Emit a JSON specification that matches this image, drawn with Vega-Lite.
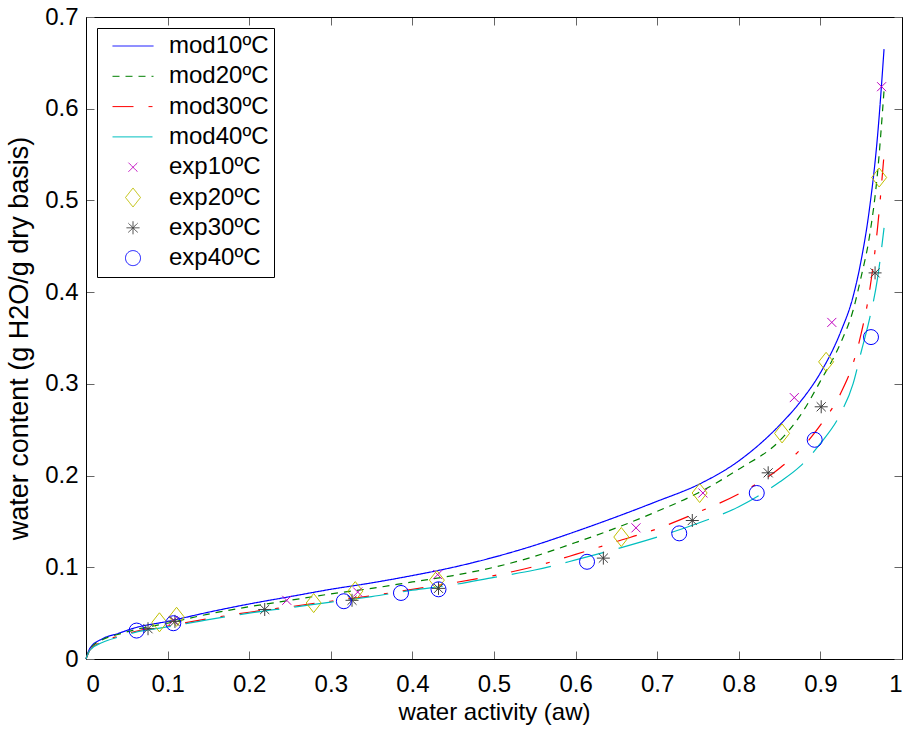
{
  "$schema": "https://vega.github.io/schema/vega-lite/v6.json",
  "width": 816,
  "height": 642,
  "autosize": {"type": "none"},
  "padding": {"left": 86, "top": 17, "right": 7, "bottom": 72},
  "background": "white",
  "config": {
    "view": {"stroke": "black", "strokeWidth": 1},
    "font": "Liberation Sans",
    "axis": {
      "labelFont": "Liberation Sans",
      "titleFont": "Liberation Sans",
      "labelFontSize": 24,
      "titleFontSize": 24,
      "labelColor": "black",
      "titleColor": "black",
      "titleFontWeight": "normal",
      "domainColor": "black",
      "domainWidth": 1,
      "tickColor": "#666666",
      "tickWidth": 1,
      "tickSize": -8,
      "grid": false
    },
    "legend": {
      "orient": "top-left",
      "offset": 11,
      "padding": 5,
      "strokeColor": "black",
      "fillColor": "white",
      "clipHeight": 26,
      "rowPadding": 4.3,
      "symbolOffset": 10,
      "labelOffset": 15,
      "labelFont": "Liberation Sans",
      "labelFontSize": 24,
      "labelColor": "black",
      "symbolStrokeWidth": 1
    }
  },
  "datasets": {
    "curves": [
      {"series": "mod10ºC", "aw": 0, "w": 0},
      {"series": "mod10ºC", "aw": 0.005, "w": 0.012},
      {"series": "mod10ºC", "aw": 0.02, "w": 0.022},
      {"series": "mod10ºC", "aw": 0.04, "w": 0.028},
      {"series": "mod10ºC", "aw": 0.06, "w": 0.034},
      {"series": "mod10ºC", "aw": 0.1, "w": 0.041},
      {"series": "mod10ºC", "aw": 0.15, "w": 0.051},
      {"series": "mod10ºC", "aw": 0.2, "w": 0.06},
      {"series": "mod10ºC", "aw": 0.25, "w": 0.068},
      {"series": "mod10ºC", "aw": 0.3, "w": 0.076},
      {"series": "mod10ºC", "aw": 0.35, "w": 0.083},
      {"series": "mod10ºC", "aw": 0.4, "w": 0.091},
      {"series": "mod10ºC", "aw": 0.45, "w": 0.1},
      {"series": "mod10ºC", "aw": 0.5, "w": 0.111},
      {"series": "mod10ºC", "aw": 0.55, "w": 0.124},
      {"series": "mod10ºC", "aw": 0.6, "w": 0.139},
      {"series": "mod10ºC", "aw": 0.65, "w": 0.155},
      {"series": "mod10ºC", "aw": 0.7, "w": 0.172},
      {"series": "mod10ºC", "aw": 0.75, "w": 0.19},
      {"series": "mod10ºC", "aw": 0.8, "w": 0.216},
      {"series": "mod10ºC", "aw": 0.85, "w": 0.255},
      {"series": "mod10ºC", "aw": 0.875, "w": 0.28},
      {"series": "mod10ºC", "aw": 0.9, "w": 0.312},
      {"series": "mod10ºC", "aw": 0.925, "w": 0.357},
      {"series": "mod10ºC", "aw": 0.94, "w": 0.395},
      {"series": "mod10ºC", "aw": 0.95, "w": 0.435},
      {"series": "mod10ºC", "aw": 0.96, "w": 0.49},
      {"series": "mod10ºC", "aw": 0.97, "w": 0.57},
      {"series": "mod10ºC", "aw": 0.978, "w": 0.665},
      {"series": "mod20ºC", "aw": 0, "w": 0},
      {"series": "mod20ºC", "aw": 0.005, "w": 0.011},
      {"series": "mod20ºC", "aw": 0.02, "w": 0.021},
      {"series": "mod20ºC", "aw": 0.04, "w": 0.027},
      {"series": "mod20ºC", "aw": 0.06, "w": 0.032},
      {"series": "mod20ºC", "aw": 0.1, "w": 0.039},
      {"series": "mod20ºC", "aw": 0.15, "w": 0.049},
      {"series": "mod20ºC", "aw": 0.2, "w": 0.057},
      {"series": "mod20ºC", "aw": 0.25, "w": 0.064},
      {"series": "mod20ºC", "aw": 0.3, "w": 0.071},
      {"series": "mod20ºC", "aw": 0.35, "w": 0.077},
      {"series": "mod20ºC", "aw": 0.4, "w": 0.084},
      {"series": "mod20ºC", "aw": 0.45, "w": 0.091},
      {"series": "mod20ºC", "aw": 0.5, "w": 0.1},
      {"series": "mod20ºC", "aw": 0.55, "w": 0.112},
      {"series": "mod20ºC", "aw": 0.6, "w": 0.127},
      {"series": "mod20ºC", "aw": 0.65, "w": 0.143},
      {"series": "mod20ºC", "aw": 0.7, "w": 0.161},
      {"series": "mod20ºC", "aw": 0.75, "w": 0.181},
      {"series": "mod20ºC", "aw": 0.8, "w": 0.207},
      {"series": "mod20ºC", "aw": 0.85, "w": 0.238},
      {"series": "mod20ºC", "aw": 0.875, "w": 0.265},
      {"series": "mod20ºC", "aw": 0.9, "w": 0.303},
      {"series": "mod20ºC", "aw": 0.925, "w": 0.345},
      {"series": "mod20ºC", "aw": 0.94, "w": 0.38},
      {"series": "mod20ºC", "aw": 0.95, "w": 0.417},
      {"series": "mod20ºC", "aw": 0.96, "w": 0.46},
      {"series": "mod20ºC", "aw": 0.97, "w": 0.53},
      {"series": "mod20ºC", "aw": 0.978, "w": 0.62},
      {"series": "mod30ºC", "aw": 0, "w": 0},
      {"series": "mod30ºC", "aw": 0.005, "w": 0.01},
      {"series": "mod30ºC", "aw": 0.02, "w": 0.019},
      {"series": "mod30ºC", "aw": 0.04, "w": 0.025},
      {"series": "mod30ºC", "aw": 0.06, "w": 0.03},
      {"series": "mod30ºC", "aw": 0.1, "w": 0.036},
      {"series": "mod30ºC", "aw": 0.15, "w": 0.044},
      {"series": "mod30ºC", "aw": 0.2, "w": 0.051},
      {"series": "mod30ºC", "aw": 0.25, "w": 0.057},
      {"series": "mod30ºC", "aw": 0.3, "w": 0.063},
      {"series": "mod30ºC", "aw": 0.35, "w": 0.069},
      {"series": "mod30ºC", "aw": 0.4, "w": 0.076},
      {"series": "mod30ºC", "aw": 0.45, "w": 0.083},
      {"series": "mod30ºC", "aw": 0.5, "w": 0.091},
      {"series": "mod30ºC", "aw": 0.55, "w": 0.101},
      {"series": "mod30ºC", "aw": 0.6, "w": 0.114},
      {"series": "mod30ºC", "aw": 0.65, "w": 0.128},
      {"series": "mod30ºC", "aw": 0.7, "w": 0.142},
      {"series": "mod30ºC", "aw": 0.75, "w": 0.16},
      {"series": "mod30ºC", "aw": 0.8, "w": 0.18},
      {"series": "mod30ºC", "aw": 0.85, "w": 0.208},
      {"series": "mod30ºC", "aw": 0.875, "w": 0.228},
      {"series": "mod30ºC", "aw": 0.9, "w": 0.255},
      {"series": "mod30ºC", "aw": 0.925, "w": 0.29},
      {"series": "mod30ºC", "aw": 0.94, "w": 0.322},
      {"series": "mod30ºC", "aw": 0.95, "w": 0.355},
      {"series": "mod30ºC", "aw": 0.96, "w": 0.4},
      {"series": "mod30ºC", "aw": 0.97, "w": 0.47},
      {"series": "mod30ºC", "aw": 0.978, "w": 0.55},
      {"series": "mod40ºC", "aw": 0, "w": 0},
      {"series": "mod40ºC", "aw": 0.005, "w": 0.01},
      {"series": "mod40ºC", "aw": 0.02, "w": 0.018},
      {"series": "mod40ºC", "aw": 0.04, "w": 0.024},
      {"series": "mod40ºC", "aw": 0.06, "w": 0.029},
      {"series": "mod40ºC", "aw": 0.1, "w": 0.035},
      {"series": "mod40ºC", "aw": 0.15, "w": 0.043},
      {"series": "mod40ºC", "aw": 0.2, "w": 0.05},
      {"series": "mod40ºC", "aw": 0.25, "w": 0.056},
      {"series": "mod40ºC", "aw": 0.3, "w": 0.062},
      {"series": "mod40ºC", "aw": 0.35, "w": 0.068},
      {"series": "mod40ºC", "aw": 0.4, "w": 0.075},
      {"series": "mod40ºC", "aw": 0.45, "w": 0.081},
      {"series": "mod40ºC", "aw": 0.5, "w": 0.089},
      {"series": "mod40ºC", "aw": 0.55, "w": 0.097},
      {"series": "mod40ºC", "aw": 0.6, "w": 0.108},
      {"series": "mod40ºC", "aw": 0.65, "w": 0.12},
      {"series": "mod40ºC", "aw": 0.7, "w": 0.133},
      {"series": "mod40ºC", "aw": 0.75, "w": 0.148},
      {"series": "mod40ºC", "aw": 0.8, "w": 0.166},
      {"series": "mod40ºC", "aw": 0.85, "w": 0.193},
      {"series": "mod40ºC", "aw": 0.875, "w": 0.21},
      {"series": "mod40ºC", "aw": 0.9, "w": 0.235},
      {"series": "mod40ºC", "aw": 0.925, "w": 0.268},
      {"series": "mod40ºC", "aw": 0.94, "w": 0.3},
      {"series": "mod40ºC", "aw": 0.95, "w": 0.335},
      {"series": "mod40ºC", "aw": 0.96, "w": 0.37},
      {"series": "mod40ºC", "aw": 0.97, "w": 0.415},
      {"series": "mod40ºC", "aw": 0.978, "w": 0.47}
    ],
    "points": [
      {"series": "exp10ºC", "aw": 0.975, "w": 0.624},
      {"series": "exp10ºC", "aw": 0.914, "w": 0.367},
      {"series": "exp10ºC", "aw": 0.868, "w": 0.285},
      {"series": "exp10ºC", "aw": 0.756, "w": 0.181},
      {"series": "exp10ºC", "aw": 0.674, "w": 0.143},
      {"series": "exp10ºC", "aw": 0.431, "w": 0.092},
      {"series": "exp10ºC", "aw": 0.333, "w": 0.073},
      {"series": "exp10ºC", "aw": 0.246, "w": 0.064},
      {"series": "exp10ºC", "aw": 0.107, "w": 0.042},
      {"series": "exp20ºC", "aw": 0.972, "w": 0.525},
      {"series": "exp20ºC", "aw": 0.907, "w": 0.324},
      {"series": "exp20ºC", "aw": 0.853, "w": 0.246},
      {"series": "exp20ºC", "aw": 0.752, "w": 0.181},
      {"series": "exp20ºC", "aw": 0.656, "w": 0.133},
      {"series": "exp20ºC", "aw": 0.43, "w": 0.086},
      {"series": "exp20ºC", "aw": 0.33, "w": 0.074},
      {"series": "exp20ºC", "aw": 0.279, "w": 0.061},
      {"series": "exp20ºC", "aw": 0.111, "w": 0.046},
      {"series": "exp20ºC", "aw": 0.09, "w": 0.04},
      {"series": "exp30ºC", "aw": 0.967, "w": 0.421},
      {"series": "exp30ºC", "aw": 0.901, "w": 0.275},
      {"series": "exp30ºC", "aw": 0.836, "w": 0.203},
      {"series": "exp30ºC", "aw": 0.743, "w": 0.151},
      {"series": "exp30ºC", "aw": 0.634, "w": 0.11},
      {"series": "exp30ºC", "aw": 0.432, "w": 0.077},
      {"series": "exp30ºC", "aw": 0.326, "w": 0.064},
      {"series": "exp30ºC", "aw": 0.219, "w": 0.054},
      {"series": "exp30ºC", "aw": 0.109, "w": 0.041},
      {"series": "exp30ºC", "aw": 0.076, "w": 0.033},
      {"series": "exp40ºC", "aw": 0.962, "w": 0.351},
      {"series": "exp40ºC", "aw": 0.893, "w": 0.239},
      {"series": "exp40ºC", "aw": 0.822, "w": 0.181},
      {"series": "exp40ºC", "aw": 0.727, "w": 0.137},
      {"series": "exp40ºC", "aw": 0.614, "w": 0.106},
      {"series": "exp40ºC", "aw": 0.432, "w": 0.076},
      {"series": "exp40ºC", "aw": 0.386, "w": 0.072},
      {"series": "exp40ºC", "aw": 0.316, "w": 0.063},
      {"series": "exp40ºC", "aw": 0.107, "w": 0.039},
      {"series": "exp40ºC", "aw": 0.062, "w": 0.031}
    ]
  },
  "resolve": {"axis": {"x": "independent", "y": "independent"}},
  "layer": [
    {
      "data": {"name": "curves"},
      "mark": {"type": "line", "strokeWidth": 1.2, "interpolate": "monotone"},
      "encoding": {
        "x": {
          "field": "aw", "type": "quantitative",
          "scale": {"domain": [0, 1], "nice": false},
          "axis": {"orient": "bottom", "values": [0, 0.1, 0.2, 0.3, 0.4, 0.5, 0.6, 0.7, 0.8, 0.9, 1], "format": "~g", "labelPadding": 21, "title": "water activity (aw)", "titlePadding": 4}
        },
        "y": {
          "field": "w", "type": "quantitative",
          "scale": {"domain": [0, 0.7], "nice": false},
          "axis": {"orient": "left", "values": [0, 0.1, 0.2, 0.3, 0.4, 0.5, 0.6, 0.7], "format": "~g", "labelPadding": 16, "title": "water content (g H2O/g dry basis)", "titlePadding": 11, "titleFontSize": 27}
        },
        "color": {
          "field": "series", "type": "nominal", "title": null,
          "legend": {"labelExpr": "datum.label + '\u00a0\u00a0\u00a0'"},
          "scale": {
            "domain": ["mod10ºC", "mod20ºC", "mod30ºC", "mod40ºC", "exp10ºC", "exp20ºC", "exp30ºC", "exp40ºC"],
            "range": ["#0000FF", "#008000", "#FF0000", "#00BFBF", "#BF00BF", "#BFBF00", "#404040", "#0000FF"]
          }
        },
        "strokeDash": {
          "field": "series", "type": "nominal", "title": null,
          "legend": {"labelExpr": "datum.label + '\u00a0\u00a0\u00a0'"},
          "scale": {
            "domain": ["mod10ºC", "mod20ºC", "mod30ºC", "mod40ºC", "exp10ºC", "exp20ºC", "exp30ºC", "exp40ºC"],
            "range": [[1, 0], [7, 6], [21, 15, 4, 15], [40, 15], [1, 0], [1, 0], [1, 0], [1, 0]]
          }
        }
      }
    },
    {
      "data": {"name": "points"},
      "mark": {"type": "point", "filled": false, "strokeWidth": 1, "opacity": 1},
      "encoding": {
        "x": {
          "field": "aw", "type": "quantitative",
          "axis": {"orient": "top", "values": [0, 0.1, 0.2, 0.3, 0.4, 0.5, 0.6, 0.7, 0.8, 0.9, 1], "labels": false, "title": null}
        },
        "y": {
          "field": "w", "type": "quantitative",
          "axis": {"orient": "right", "values": [0, 0.1, 0.2, 0.3, 0.4, 0.5, 0.6, 0.7], "labels": false, "title": null}
        },
        "color": {
          "field": "series", "type": "nominal", "title": null,
          "legend": {"labelExpr": "datum.label + '\u00a0\u00a0\u00a0'"},
          "scale": {
            "domain": ["mod10ºC", "mod20ºC", "mod30ºC", "mod40ºC", "exp10ºC", "exp20ºC", "exp30ºC", "exp40ºC"],
            "range": ["#0000FF", "#008000", "#FF0000", "#00BFBF", "#BF00BF", "#BFBF00", "#404040", "#0000FF"]
          }
        },
        "shape": {
          "field": "series", "type": "nominal", "title": null,
          "legend": {"labelExpr": "datum.label + '\u00a0\u00a0\u00a0'"},
          "scale": {
            "domain": ["mod10ºC", "mod20ºC", "mod30ºC", "mod40ºC", "exp10ºC", "exp20ºC", "exp30ºC", "exp40ºC"],
            "range": ["stroke", "stroke", "stroke", "stroke", "M-1,-1L1,1M-1,1L1,-1", "M0,-1.27L1,0L0,1.27L-1,0Z", "M-1,0L1,0M0,-1L0,1M-0.7,-0.7L0.7,0.7M-0.7,0.7L0.7,-0.7", "circle"]
          }
        },
        "size": {
          "field": "series", "type": "nominal", "title": null,
          "legend": {"labelExpr": "datum.label + '\u00a0\u00a0\u00a0'"},
          "scale": {
            "type": "ordinal",
            "domain": ["mod10ºC", "mod20ºC", "mod30ºC", "mod40ºC", "exp10ºC", "exp20ºC", "exp30ºC", "exp40ºC"],
            "range": [1681, 1681, 1681, 1681, 81, 225, 169, 225]
          }
        }
      }
    }
  ]
}
